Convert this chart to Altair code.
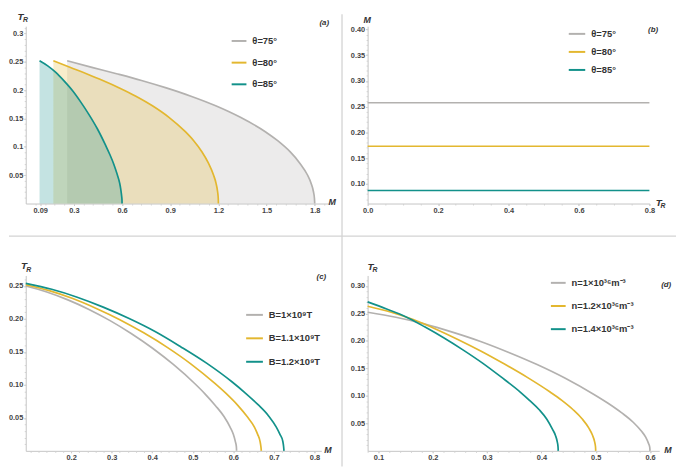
import altair as alt
import pandas as pd

GRAY = "#b3b1af"
YELLOW = "#e3b72f"
TEAL = "#12918a"
COLORS = [GRAY, YELLOW, TEAL]
FONT = "Liberation Sans"
TXT = "#333333"

# ---------------- panel (a): T_R vs M for three angles
A_SERIES = ["θ=75°", "θ=80°", "θ=85°"]
A_M_75 = [0.258, 0.412, 0.566, 0.721, 0.875, 1.029, 1.183, 1.337, 1.492, 1.569, 1.646, 1.707, 1.754, 1.777, 1.792, 1.798, 1.800]
A_T_75 = [0.252, 0.2404, 0.2291, 0.2172, 0.2041, 0.1895, 0.1726, 0.1522, 0.1268, 0.1109, 0.0915, 0.0713, 0.0508, 0.0360, 0.0208, 0.0093, 0.0]
A_M_80 = [0.172, 0.275, 0.378, 0.480, 0.583, 0.686, 0.789, 0.892, 0.994, 1.046, 1.097, 1.138, 1.169, 1.185, 1.195, 1.199, 1.200]
A_T_80 = [0.252, 0.2404, 0.2291, 0.2172, 0.2041, 0.1895, 0.1726, 0.1522, 0.1268, 0.1109, 0.0915, 0.0713, 0.0508, 0.0360, 0.0208, 0.0093, 0.0]
A_M_85 = [0.086, 0.137, 0.189, 0.240, 0.292, 0.343, 0.394, 0.446, 0.497, 0.523, 0.549, 0.569, 0.585, 0.592, 0.597, 0.5995, 0.600]
A_T_85 = [0.252, 0.243, 0.231, 0.216, 0.199, 0.179, 0.157, 0.132, 0.103, 0.087, 0.069, 0.052, 0.036, 0.025, 0.014, 0.0064, 0.0]
A_XTICKS = [0.09, 0.3, 0.6, 0.9, 1.2, 1.5, 1.8]
A_YTICKS = [0.05, 0.1, 0.15, 0.2, 0.25, 0.3]

# ---------------- panel (b): M vs T_R (constant)
B_SERIES = ["θ=75°", "θ=80°", "θ=85°"]
B_TR = [0.0, 0.8]
B_M_75 = [0.2575, 0.2575]
B_M_80 = [0.173, 0.173]
B_M_85 = [0.087, 0.087]
B_XTICKS = [0.0, 0.2, 0.4, 0.6, 0.8]
B_YTICKS = [0.10, 0.15, 0.20, 0.25, 0.30, 0.35, 0.40]

# ---------------- panel (c): T_R vs M for three B fields
C_SERIES = ["B=1×10⁹T", "B=1.1×10⁹T", "B=1.2×10⁹T"]
C_M_10 = [0.088, 0.140, 0.192, 0.244, 0.296, 0.348, 0.400, 0.452, 0.504, 0.530, 0.556, 0.577, 0.592, 0.600, 0.605, 0.6075, 0.608]
C_T_10 = [0.250, 0.241, 0.229, 0.2145, 0.1975, 0.178, 0.156, 0.131, 0.1025, 0.0865, 0.0685, 0.052, 0.036, 0.025, 0.014, 0.0064, 0.0]
C_M_11 = [0.088, 0.146, 0.204, 0.262, 0.320, 0.379, 0.437, 0.495, 0.553, 0.582, 0.611, 0.634, 0.652, 0.660, 0.666, 0.668, 0.669]
C_T_11 = [0.252, 0.243, 0.231, 0.216, 0.199, 0.179, 0.157, 0.132, 0.103, 0.087, 0.069, 0.052, 0.036, 0.025, 0.014, 0.0064, 0.0]
C_M_12 = [0.088, 0.152, 0.215, 0.279, 0.343, 0.407, 0.470, 0.534, 0.598, 0.629, 0.661, 0.687, 0.706, 0.715, 0.722, 0.724, 0.725]
C_T_12 = [0.254, 0.245, 0.233, 0.218, 0.2007, 0.181, 0.158, 0.133, 0.104, 0.088, 0.070, 0.053, 0.036, 0.025, 0.0145, 0.0065, 0.0]
C_XTICKS = [0.2, 0.3, 0.4, 0.5, 0.6, 0.7, 0.8]
C_YTICKS = [0.05, 0.10, 0.15, 0.20, 0.25]

# ---------------- panel (d): T_R vs M for three densities
D_SERIES = ["n=1×10³⁶m⁻³", "n=1.2×10³⁶m⁻³", "n=1.4×10³⁶m⁻³"]
D_M_10 = [0.080, 0.132, 0.184, 0.236, 0.288, 0.340, 0.392, 0.444, 0.496, 0.522, 0.548, 0.569, 0.584, 0.592, 0.597, 0.5995, 0.600]
D_T_10 = [0.252, 0.243, 0.231, 0.216, 0.199, 0.179, 0.157, 0.132, 0.103, 0.087, 0.069, 0.052, 0.036, 0.025, 0.014, 0.0064, 0.0]
D_M_12 = [0.080, 0.122, 0.164, 0.206, 0.248, 0.290, 0.332, 0.374, 0.416, 0.437, 0.458, 0.4748, 0.4874, 0.4937, 0.4979, 0.4996, 0.500]
D_T_12 = [0.263, 0.2526, 0.2388, 0.2212, 0.2017, 0.1807, 0.1578, 0.1336, 0.107, 0.0923, 0.0752, 0.0584, 0.0413, 0.0292, 0.0168, 0.0075, 0.0]
D_M_14 = [0.080, 0.115, 0.150, 0.185, 0.220, 0.2555, 0.291, 0.3257, 0.361, 0.378, 0.396, 0.410, 0.420, 0.4257, 0.4292, 0.4306, 0.431]
D_T_14 = [0.271, 0.258, 0.244, 0.2256, 0.2057, 0.1837, 0.160, 0.1344, 0.107, 0.092, 0.0748, 0.0575, 0.040, 0.0285, 0.0164, 0.0073, 0.0]
D_XTICKS = [0.1, 0.2, 0.3, 0.4, 0.5, 0.6]
D_YTICKS = [0.05, 0.10, 0.15, 0.20, 0.25, 0.30]


def minor(lo, hi, step):
    n = int(round((hi - lo) / step))
    return [round(lo + i * step, 4) for i in range(n + 1)]


def long_df(series, xs, ys):
    rows = []
    for s, xv, yv in zip(series, xs, ys):
        for a, b in zip(xv, yv):
            rows.append({"s": s, "x": a, "y": b})
    return pd.DataFrame(rows)


def text_layer(t, x, y, size, italic=True, weight="bold", align="center"):
    return alt.Chart(pd.DataFrame({"t": [t]})).mark_text(
        font=FONT, fontSize=size, fontStyle="italic" if italic else "normal",
        fontWeight=weight, color=TXT, align=align, baseline="middle"
    ).encode(x=alt.value(x), y=alt.value(y), text=alt.Text("t:N"))


def panel(df, series, xd, yd, xt, yt, xf, yf, xm, ym, w, h, leg, notes, areas=False, extra=None):
    xs = alt.Scale(domain=xd, nice=False, zero=False)
    ys = alt.Scale(domain=yd, nice=False, zero=False)
    xe = alt.X("x:Q", scale=xs, axis=alt.Axis(values=xt, format=xf, title=None))
    ye = alt.Y("y:Q", scale=ys, axis=alt.Axis(values=yt, format=yf, title=None), stack=None)
    layers = []
    if areas:
        for s, c in zip(series, COLORS):
            layers.append(
                alt.Chart(df[df.s == s]).mark_area(interpolate="monotone", color=c, opacity=0.25)
                .encode(x=xe, y=ye)
            )
    lines = alt.Chart(df).mark_line(interpolate="monotone", strokeWidth=1.7).encode(
        x=xe, y=ye,
        color=alt.Color("s:N", scale=alt.Scale(domain=series, range=COLORS),
                        legend=alt.Legend(
                            title=None, orient="none", legendX=leg[0], legendY=leg[1],
                            symbolType="stroke", symbolSize=leg[2], symbolStrokeWidth=2,
                            rowPadding=leg[3], labelOffset=5, padding=0,
                            labelFont=FONT, labelFontSize=9.5, labelFontWeight="bold",
                            labelColor=TXT)),
    )
    layers.append(lines)
    if extra:
        layers.extend(extra)
    for n in notes:
        layers.append(text_layer(*n))
    main = alt.layer(*layers)
    # minor ticks (no labels, no domain line)
    ticks = alt.Chart(df).mark_point(opacity=0).encode(
        x=alt.X("x:Q", scale=xs, axis=alt.Axis(orient="bottom", values=xm, labels=False,
                                               domain=False, tickSize=1.5, title=None,
                                               tickColor="#d0d0d0")),
        y=alt.Y("y:Q", scale=ys, axis=alt.Axis(orient="left", values=ym, labels=False,
                                               domain=False, tickSize=1.5, title=None,
                                               tickColor="#d0d0d0")),
    )
    return alt.layer(main, ticks).resolve_axis(x="independent", y="independent").properties(
        width=w, height=h)


# separator lines between the four panels; their ends also pin the page frame
SEP = "#d3d3d3"
sep_v = alt.Chart(pd.DataFrame({"k": [0]})).mark_rule(color=SEP, strokeWidth=1.3).encode(
    x=alt.value(321), y=alt.value(-12), y2=alt.value(447))
sep_h = alt.Chart(pd.DataFrame({"k": [0]})).mark_rule(color=SEP, strokeWidth=1.3).encode(
    x=alt.value(-17), x2=alt.value(660), y=alt.value(213))

pa = panel(
    long_df(A_SERIES, [A_M_75, A_M_80, A_M_85], [A_T_75, A_T_80, A_T_85]),
    A_SERIES, [0, 1.89], [0, 0.313], A_XTICKS, A_YTICKS, ".2~f", ".2~f",
    minor(0.06, 1.86, 0.06), minor(0.01, 0.31, 0.01), 308, 180,
    (208, 6.5, 225, 9),
    [("T", -5.3, -9.3, 10), ("R", -0.3, -5.8, 7), ("M", 311, 178, 9), ("(a)", 303, -2.7, 8)],
    areas=True, extra=[sep_v, sep_h],
)

pb = panel(
    long_df(B_SERIES, [B_TR, B_TR, B_TR], [B_M_75, B_M_80, B_M_85]),
    B_SERIES, [0, 0.8], [0.0617, 0.4063], B_XTICKS, B_YTICKS, ".1f", ".2f",
    minor(0.05, 0.8, 0.05), minor(0.07, 0.40, 0.01), 286, 180,
    (203, -1.7, 279, 4.3),
    [("M", -0.5, -6, 9), ("T", 295.5, 179, 10), ("R", 299.7, 182.5, 7), ("(b)", 289.7, 4, 8)],
)

pc = panel(
    long_df(C_SERIES, [C_M_10, C_M_11, C_M_12], [C_T_10, C_T_11, C_T_12]),
    C_SERIES, [0.088, 0.817], [0, 0.266], C_XTICKS, C_YTICKS, ".1f", ".2f",
    minor(0.1, 0.8, 0.02), minor(0.01, 0.26, 0.01), 300, 178,
    (222.7, 30.5, 289, 9.8),
    [("T", -1.7, -9.7, 10), ("R", 3, -6, 7), ("M", 306.7, 177.5, 9), ("(c)", 300, 1.3, 8)],
)

pd_ = panel(
    long_df(D_SERIES, [D_M_10, D_M_12, D_M_14], [D_T_10, D_T_12, D_T_14]),
    D_SERIES, [0.08, 0.617], [0, 0.319], D_XTICKS, D_YTICKS, ".1f", ".2f",
    minor(0.08, 0.6, 0.02), minor(0.01, 0.31, 0.01), 296, 178,
    (185, -1, 225, 10.5),
    [("T", 2.8, -8.5, 10), ("R", 7.5, -5.5, 7), ("M", 304.7, 177, 9), ("(d)", 303, 9.7, 8)],
)

chart = alt.concat(
    pa, pb, pc, pd_, columns=2, spacing={"row": 73, "column": 39}, bounds="flush"
).resolve_scale(color="independent").properties(
    padding=0,
).configure_axis(
    domainColor="#c4c4c4", tickColor="#c4c4c4", tickSize=2, labelPadding=1,
    labelFont=FONT, labelFontSize=7.5, labelFontWeight="bold", labelColor="#444444",
    grid=False, labelFlush=False, labelOverlap=False,
).configure_view(strokeWidth=0)

chart.save("out.html", embed_options={"renderer": "svg", "actions": False})
